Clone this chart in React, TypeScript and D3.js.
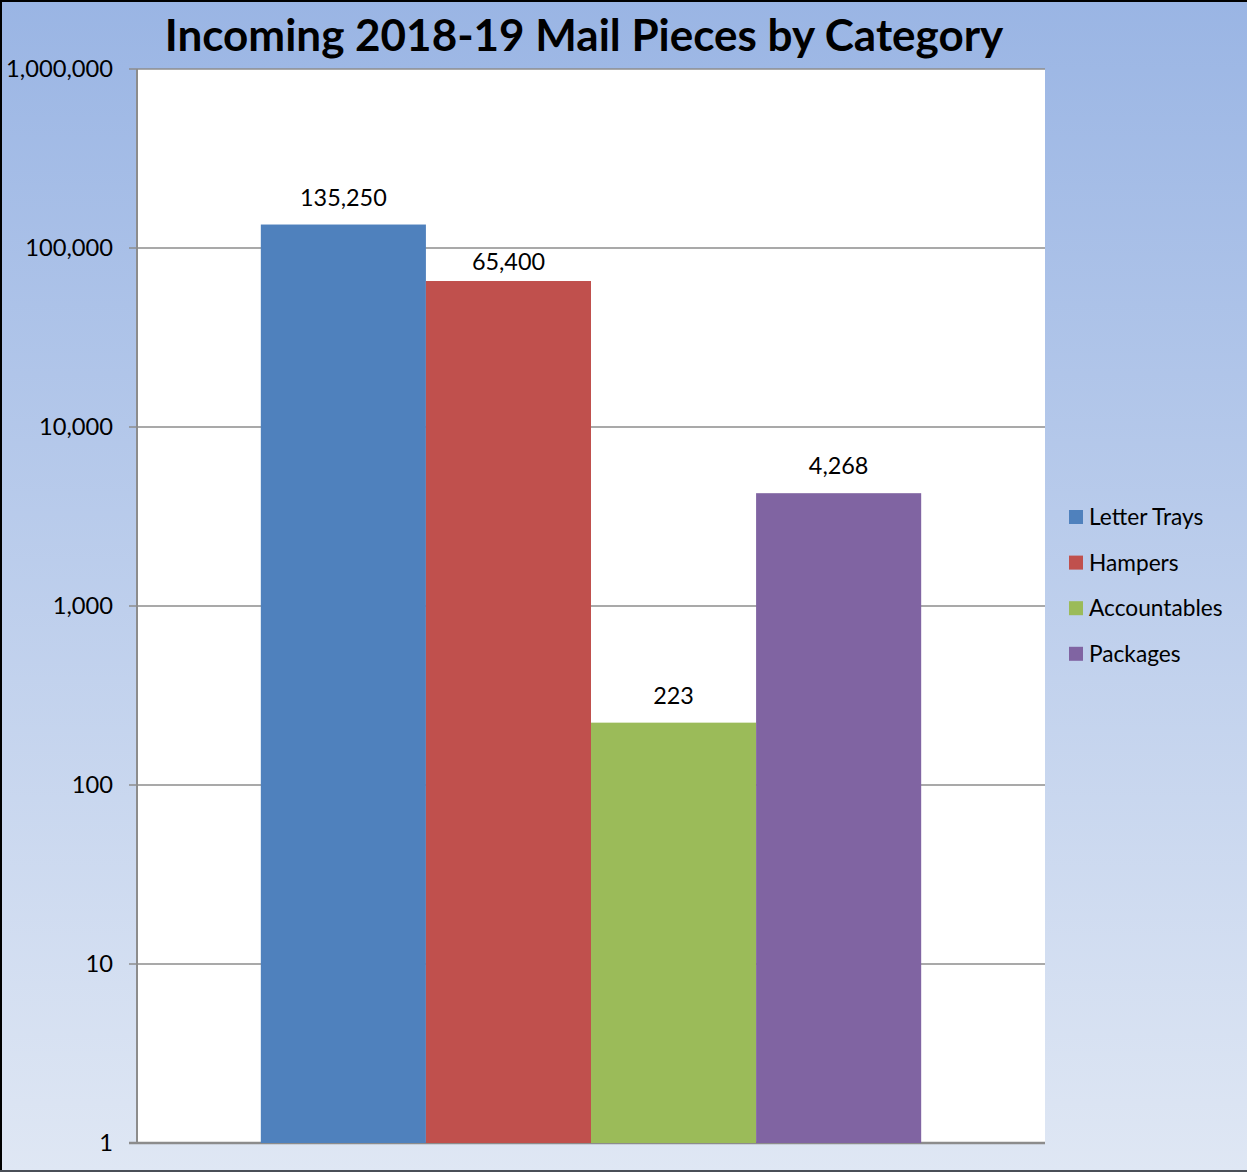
import React from "react";
import * as d3 from "d3";

const series = ["Letter Trays", "Hampers", "Accountables", "Packages"];
const values = [135250, 65400, 223, 4268];
const colors = ["#4F81BD", "#C0504D", "#9BBB59", "#8064A2"];
const yTicks = [1, 10, 100, 1000, 10000, 100000, 1000000];
const title = "Incoming 2018-19 Mail Pieces by Category";

const W = 1247;
const H = 1172;
const plot = { left: 137, top: 69, right: 1045, bottom: 1143 };
const FONT = "Lato, 'Open Sans', sans-serif";
// label distance above bar top (the Hampers label sits closer in the original)
const labelGap = [19, 11, 19, 19];

export default function App() {
  const y = d3.scaleLog().domain([1, 1e6]).range([plot.bottom, plot.top]);
  const plotW = plot.right - plot.left;
  const gap = 1.5;
  const barW = plotW / (series.length + gap);
  const x = d3
    .scaleBand<string>()
    .domain(series)
    .range([plot.left + (gap * barW) / 2, plot.right - (gap * barW) / 2])
    .padding(0);
  const fmt = d3.format(",");

  return (
    <svg
      width={W}
      height={H}
      style={{ position: "absolute", left: 0, top: 0, display: "block" }}
    >
      <defs>
        <linearGradient id="bg" x1="0" y1="0" x2="0" y2="1">
          <stop offset="0" stopColor="#9AB5E4" />
          <stop offset="1" stopColor="#DFE7F4" />
        </linearGradient>
      </defs>
      <rect x={0} y={0} width={W} height={H} fill="url(#bg)" />
      <rect x={1} y={1} width={W + 4} height={H - 2} fill="none" stroke="#000" strokeWidth={2} />
      <line x1={0} x2={W} y1={H - 1} y2={H - 1} stroke="#4a4f57" strokeWidth={2} />
      <rect
        x={plot.left}
        y={plot.top}
        width={plotW}
        height={plot.bottom - plot.top}
        fill="#fff"
      />
      {yTicks.map((t) => (
        <g key={t}>
          <line
            x1={plot.left - 8}
            x2={plot.right}
            y1={y(t)}
            y2={y(t)}
            stroke="#8c8c8c"
            strokeWidth={t === 1 ? 2.5 : 1.6}
          />
          <text
            x={113}
            y={y(t)}
            dy="0.35em"
            textAnchor="end"
            fontFamily={FONT}
            fontSize={23.7}
            fill="#000"
          >
            {fmt(t)}
          </text>
        </g>
      ))}
      <line
        x1={plot.left}
        x2={plot.left}
        y1={plot.top}
        y2={plot.bottom}
        stroke="#8c8c8c"
        strokeWidth={2}
      />
      {series.map((s, i) => (
        <g key={s}>
          <rect
            x={x(s)}
            y={y(values[i])}
            width={x.bandwidth()}
            height={plot.bottom - y(values[i])}
            fill={colors[i]}
          />
          <text
            x={(x(s) as number) + x.bandwidth() / 2}
            y={y(values[i]) - labelGap[i]}
            textAnchor="middle"
            fontFamily={FONT}
            fontSize={23.4}
            fill="#000"
          >
            {fmt(values[i])}
          </text>
        </g>
      ))}
      <text
        x={584}
        y={51}
        textAnchor="middle"
        fontFamily={FONT}
        fontWeight="bold"
        fontSize={44}
        fill="#000"
      >
        {title}
      </text>
      {series.map((s, i) => (
        <g key={"lg" + s} transform={`translate(1069, ${517 + i * 45.6})`}>
          <rect x={0} y={-7} width={14} height={14} fill={colors[i]} />
          <text x={20} y={0} dy="0.35em" fontFamily={FONT} fontSize={22.7} fill="#000">
            {s}
          </text>
        </g>
      ))}
    </svg>
  );
}
